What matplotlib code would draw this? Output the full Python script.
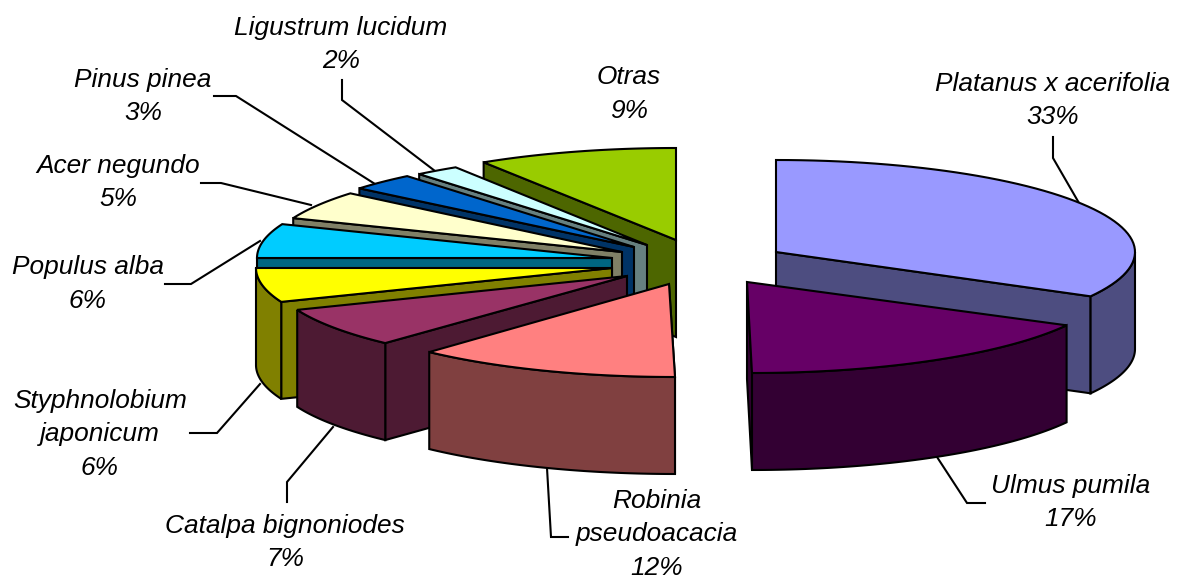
import numpy as np
import matplotlib
matplotlib.use("Agg")
import matplotlib.pyplot as plt
from matplotlib.patches import Polygon

# ---- data ----
species = ["Platanus x acerifolia", "Ulmus pumila", "Robinia\npseudoacacia", "Catalpa bignoniodes",
           "Styphnolobium\njaponicum", "Populus alba", "Acer negundo", "Pinus pinea",
           "Ligustrum lucidum", "Otras"]
shares = [33, 17, 12, 7, 6, 6, 5, 3, 2, 9]

# ---- styling / layout (pixels) ----
top_colors = ["#9999FF", "#660066", "#FF8080", "#993366", "#FFFF00", "#00CCFF", "#FFFFCC", "#0066CC", "#CCFFFF", "#99CC00"]
side_colors = ["#4D4D80", "#330033", "#804040", "#4D1A33", "#808000", "#006680", "#808066", "#003366", "#668080", "#4D6600"]
apex = [(776, 252), (747, 282), (669, 284), (627, 276), (612, 268), (612, 258), (622, 252), (634, 247), (647, 245), (676, 240)]
arc_center = [(776, 252), (752, 281), (675, 285), (631, 276), (615, 268), (616, 258), (627, 252), (636, 247), (648, 245), (676, 240)]
RX, RY, DEPTH = 359, 92, 97
draw_order = [9, 0, 8, 7, 6, 5, 4, 3, 2, 1]
label_pos = [(1053, 84), (1071, 486), (657, 501), (285, 526), (100, 401), (88, 267), (118, 166), (143, 80), (341, 28), (629, 77)]
leaders = [
    [(1053, 137), (1053, 158), (1079, 203)],
    [(937, 457), (967, 503), (985, 503)],
    [(547, 468), (551, 537), (568, 537)],
    [(333, 427), (287, 482), (287, 502)],
    [(260, 384), (217, 433), (190, 433)],
    [(260, 241), (191, 284), (165, 284)],
    [(311, 205), (221, 183), (201, 183)],
    [(375, 184), (236, 96), (214, 96)],
    [(435, 171), (342, 100), (342, 80)],
]
LW = 1.5
LINE_STEP = 33.5
FS = 18.9

plt.rcParams["font.family"] = ["Liberation Sans", "DejaVu Sans"]
fig = plt.figure(figsize=(11.84, 5.80), dpi=100)
ax = fig.add_axes([0, 0, 1, 1])
ax.set_xlim(0, 1184)
ax.set_ylim(580, 0)
ax.axis("off")

edges = np.cumsum([0] + shares) / sum(shares) * 2 * np.pi


def arc(c, t0, t1, dy=0.0):
    t = np.linspace(t0, t1, 60)
    return np.column_stack([c[0] + RX * np.sin(t), c[1] - RY * np.cos(t) + dy])


def poly(pts, color, z):
    ax.add_patch(Polygon(pts, closed=True, facecolor=color, edgecolor="black",
                         linewidth=LW, joinstyle="miter", zorder=z))


z = 2
for i in draw_order:
    t0, t1 = edges[i], edges[i + 1]
    a, c = np.array(apex[i], float), arc_center[i]
    ends = arc(c, t0, t1)
    down = np.array([0, DEPTH])
    # only the radial face turned towards the viewer
    p = ends[0] if t0 >= np.pi - 1e-9 else ends[-1]
    poly([a, p, p + down, a + down], side_colors[i], z)
    z += 1
    # outer rim (front half only)
    lo, hi = max(t0, np.pi / 2), min(t1, 3 * np.pi / 2)
    if lo < hi:
        rim = arc(c, lo, hi)
        poly(np.vstack([rim, rim[::-1] + down]), side_colors[i], z)
        z += 1
    # top
    poly(np.vstack([a, ends]), top_colors[i], z)
    z += 1

for seg in leaders:
    xy = np.array(seg)
    ax.plot(xy[:, 0], xy[:, 1], color="black", lw=LW, zorder=1, solid_joinstyle="miter")

for name, v, (x, y) in zip(species, shares, label_pos):
    lines = name.split("\n") + [f"{v}%"]
    for k, line in enumerate(lines):
        ax.text(x, y + k * LINE_STEP, line, ha="center", va="center", style="italic",
                fontsize=FS, color="black", zorder=200)

fig.savefig("out.png", dpi=100, facecolor="white")
